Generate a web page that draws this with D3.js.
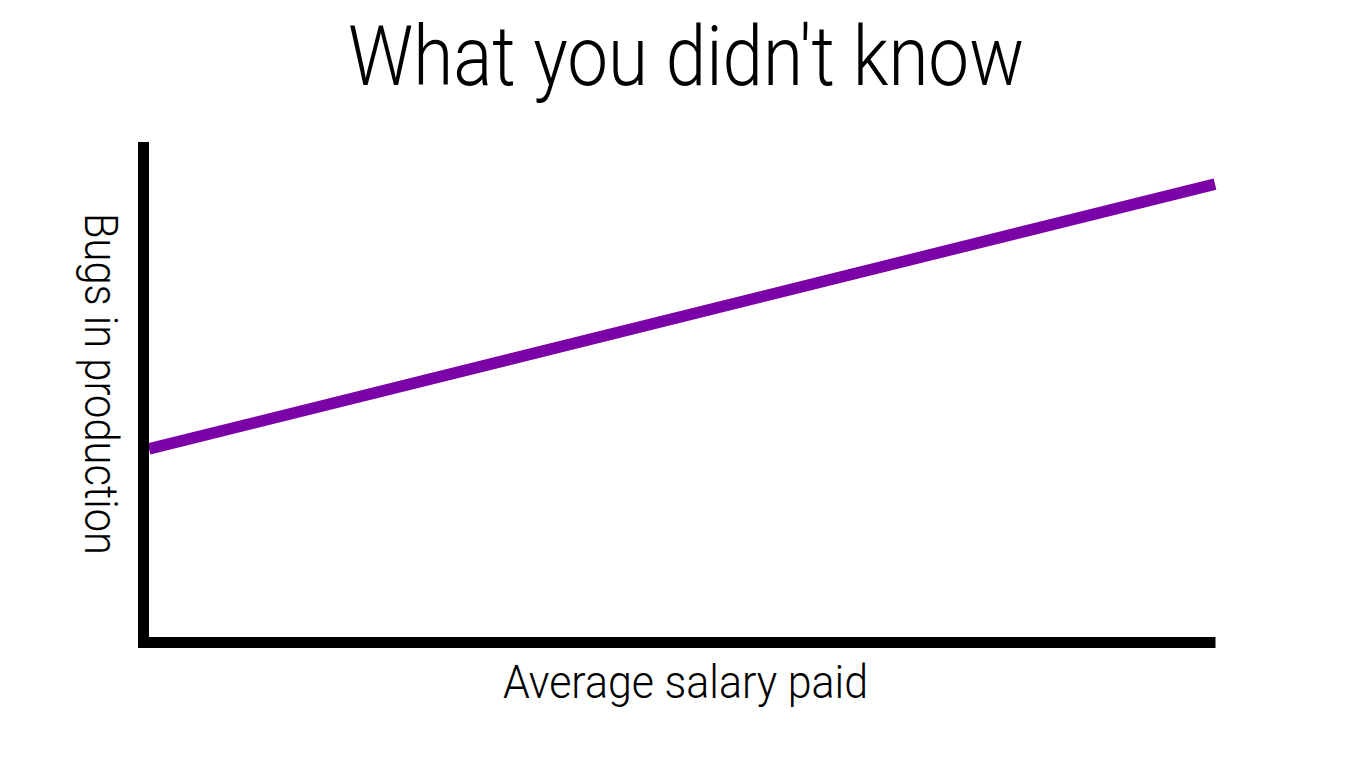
<!DOCTYPE html>
<html>
<head>
<meta charset="utf-8">
<script src="https://cdn.jsdelivr.net/npm/d3@7"></script>
<style>
  html, body { margin: 0; padding: 0; background: #fff; }
  svg { display: block; }
</style>
</head>
<body>
<script>
// Data
const salary = [0, 100];
const bugs = [38, 91.5];
const titleText = "What you didn't know";
const xLabel = "Average salary paid";
const yLabel = "Bugs in production";

const W = 1372, H = 771;
const svg = d3.select("body").append("svg").attr("width", W).attr("height", H);

const x = d3.scaleLinear().domain([0, 100]).range([149, 1215]);
const y = d3.scaleLinear().domain([0, 100]).range([637, 142]);

const font = "Roboto, 'Open Sans', sans-serif";

// Line
const line = d3.line().x((d, i) => x(salary[i])).y(d => y(d));
svg.append("path")
  .datum(bugs)
  .attr("d", line)
  .attr("fill", "none")
  .attr("stroke", "#7a02a6")
  .attr("stroke-width", 11.5)
  .attr("stroke-linecap", "butt");

// Axes (thick black L)
const axW = 11;
svg.append("line")
  .attr("x1", x(0) - axW / 2).attr("x2", x(0) - axW / 2)
  .attr("y1", y(100)).attr("y2", y(0) + axW)
  .attr("stroke", "#000").attr("stroke-width", axW);
svg.append("line")
  .attr("x1", x(0) - axW).attr("x2", x(100) + 0.5)
  .attr("y1", y(0) + axW / 2).attr("y2", y(0) + axW / 2)
  .attr("stroke", "#000").attr("stroke-width", axW);

// Title
svg.append("text")
  .attr("x", W / 2).attr("y", 85)
  .attr("text-anchor", "middle")
  .attr("font-family", font).attr("font-weight", 300)
  .attr("font-size", 84)
  .attr("textLength", 676).attr("lengthAdjust", "spacingAndGlyphs")
  .attr("fill", "#000")
  .text(titleText);

// X label
svg.append("text")
  .attr("x", 685.5).attr("y", 698)
  .attr("text-anchor", "middle")
  .attr("font-family", font).attr("font-weight", 300)
  .attr("font-size", 46)
  .attr("textLength", 365).attr("lengthAdjust", "spacingAndGlyphs")
  .attr("fill", "#000")
  .text(xLabel);

// Y label (reads top to bottom)
svg.append("text")
  .attr("transform", "translate(85,384) rotate(90)")
  .attr("text-anchor", "middle")
  .attr("font-family", font).attr("font-weight", 300)
  .attr("font-size", 47)
  .attr("textLength", 342).attr("lengthAdjust", "spacingAndGlyphs")
  .attr("fill", "#000")
  .text(yLabel);
</script>
</body>
</html>
